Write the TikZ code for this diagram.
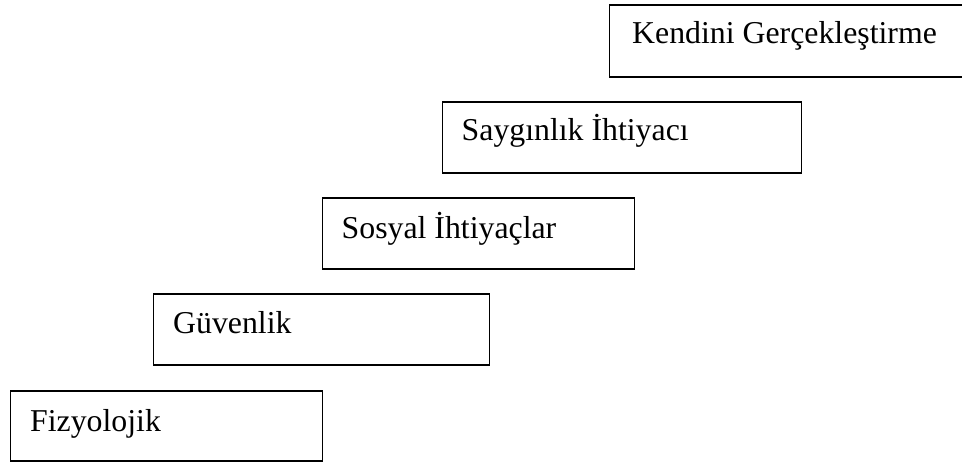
\documentclass[tikz,border=0pt]{standalone}
\usepackage{fontspec}
\setmainfont{Liberation Serif}
\begin{document}
\begin{tikzpicture}[x=1pt,y=1pt,
  levelbox/.style={draw=black, line width=1.8pt, anchor=north west, inner sep=0pt, rectangle},
  leveltext/.style={anchor=base west, inner sep=0pt, font=\fontsize{31.8}{38}\selectfont}]
  \useasboundingbox (0,0) rectangle (962,-461);
  % step boxes, lowest first
  \node[levelbox, minimum width=312pt, minimum height=70pt] (b1) at (9.5,-390) {};
  \node[levelbox, minimum width=336pt, minimum height=71pt] (b2) at (152.5,-293) {};
  \node[levelbox, minimum width=312pt, minimum height=71pt] (b3) at (321.5,-197) {};
  \node[levelbox, minimum width=359pt, minimum height=71pt] (b4) at (441.5,-101) {};
  \node[levelbox, minimum width=360pt, minimum height=72pt] (b5) at (608.5,-4) {};
  % level names
  \node[leveltext] (t1) at (30,-431.5) {Fizyolojik};
  \node[leveltext] (t2) at (173,-333.5) {Güvenlik};
  \node[leveltext] (t3) at (341.5,-238.5) {Sosyal İhtiyaçlar};
  \node[leveltext] (t4) at (461.5,-140) {Saygınlık İhtiyacı};
  \node[leveltext] (t5) at (632,-43.5) {Kendini Gerçekleştirme};
\end{tikzpicture}
\end{document}
